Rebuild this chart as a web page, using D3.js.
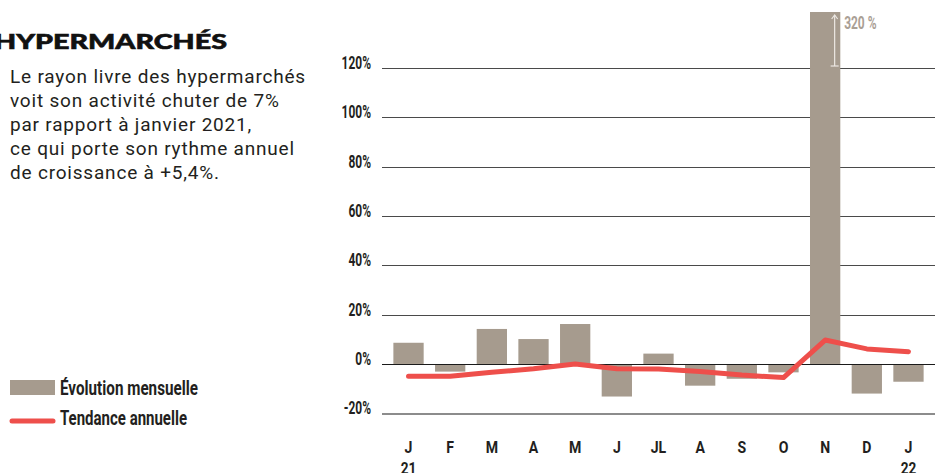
<!DOCTYPE html>
<html>
<head>
    <meta charset="utf-8" />
    <style>
        body {
            margin: 0;
            background: #fff;
        }

        .cond {
            font-family: Roboto, "DejaVu Sans", sans-serif;
            font-weight: bold;
        }
    </style>
</head>
<body>
    <svg width="935" height="473"></svg>
    <script src="https://d3js.org/d3.v7.min.js"></script>
    <script>
        var months = ["J", "F", "M", "A", "M", "J", "JL", "A", "S", "O", "N", "D", "J"];
        var years = ["21", "", "", "", "", "", "", "", "", "", "", "", "22"];
        var mensuelle = [8.6, -3.1, 14.2, 10.1, 16.2, -13.2, 4.2, -8.8, -6.0, -3.4, 320, -12.0, -7.2];
        var annuelle = [-5.0, -5.0, -3.4, -1.9, 0.0, -1.9, -2.0, -3.1, -4.5, -5.5, 9.7, 6.1, 5.0];
        var yTicks = [-20, 0, 20, 40, 60, 80, 100, 120];
        var textLines = [
            "Le rayon livre des hypermarchés",
            "voit son activité chuter de 7%",
            "par rapport à janvier 2021,",
            "ce qui porte son rythme annuel",
            "de croissance à +5,4%."
        ];

        var svg = d3.select("svg");
        var ids = months.map(function (m, i) { return i; });

        var x = d3.scaleBand()
            .domain(ids)
            .range([382, 935])
            .padding(0.273);

        var y = d3.scaleLinear()
            .domain([-20, 120])
            .range([413.3, 68]);

        // condensed look: squeeze glyphs horizontally
        var yScaleX = 0.63;

        // clip so the november bar runs off near the top
        svg.append("defs").append("clipPath")
            .attr("id", "plotclip")
            .append("rect")
            .attr("x", 370).attr("y", 12)
            .attr("width", 600).attr("height", 460);

        // gridlines
        svg.append("g")
            .selectAll("line")
            .data(yTicks)
            .enter().append("line")
            .attr("x1", 382)
            .attr("x2", 935)
            .attr("y1", function (d) { return Math.round(y(d)) + 0.5; })
            .attr("y2", function (d) { return Math.round(y(d)) + 0.5; })
            .style("shape-rendering", "crispEdges")
            .style("stroke", function (d) { return d == -20 ? "#8c8c8c" : (d == 0 ? "#1a1a1a" : "#4a4a4a"); })
            .style("stroke-width", function (d) { return d == -20 ? 2 : 1; });

        // y labels
        svg.append("g")
            .selectAll("text")
            .data(yTicks)
            .enter().append("text")
            .attr("class", "cond")
            .attr("transform", function (d) { return "translate(371," + (y(d) + 1) + ") scale(" + yScaleX + ",1)"; })
            .attr("text-anchor", "end")
            .style("font-size", "19px")
            .style("fill", "#231f20")
            .text(function (d) { return d + "%"; });

        // bars
        svg.append("g")
            .attr("clip-path", "url(#plotclip)")
            .selectAll("rect")
            .data(mensuelle)
            .enter().append("rect")
            .attr("x", function (d, i) { return x(i); })
            .attr("width", x.bandwidth())
            .attr("y", function (d) { return d >= 0 ? y(d) : y(0) + 0.5; })
            .attr("height", function (d) { return d >= 0 ? y(0) - y(d) : y(d) - y(0) - 0.5; })
            .style("fill", "#a69b8e");

        // zero line on top of bars
        svg.append("line")
            .attr("x1", 382).attr("x2", 935)
            .attr("y1", Math.round(y(0)) + 0.5).attr("y2", Math.round(y(0)) + 0.5)
            .style("stroke", "#1a1a1a")
            .style("stroke-width", 1.2);

        // trend line
        var line = d3.line()
            .x(function (d, i) { return x(i) + x.bandwidth() / 2; })
            .y(function (d) { return y(d); });

        svg.append("path")
            .datum(annuelle)
            .attr("d", line)
            .style("fill", "none")
            .style("stroke", "#ee4f4b")
            .style("stroke-width", 5)
            .style("stroke-linecap", "round")
            .style("stroke-linejoin", "round");

        // 320% arrow inside the november bar
        var nIdx = 10;
        var ax = x(nIdx) + x.bandwidth() / 2 + 9.5;
        var arrow = svg.append("g")
            .style("stroke", "#ece8e3")
            .style("stroke-width", 1.2)
            .style("fill", "none");
        arrow.append("line").attr("x1", ax).attr("x2", ax).attr("y1", 15).attr("y2", 66);
        arrow.append("line").attr("x1", ax - 4).attr("x2", ax + 4).attr("y1", 66).attr("y2", 66);
        arrow.append("path").attr("d", "M" + (ax - 3) + ",19 L" + ax + ",15 L" + (ax + 3) + ",19");

        svg.append("text")
            .attr("class", "cond")
            .attr("transform", "translate(" + (ax + 9.5) + ",29) scale(" + yScaleX + ",1)")
            .style("font-size", "19px")
            .style("fill", "#aaa095")
            .text(mensuelle[nIdx] + " %");

        // x labels
        var xl = svg.append("g").attr("class", "cond")
            .style("font-size", "16px")
            .style("fill", "#231f20")
            .attr("text-anchor", "middle");
        xl.selectAll(".m")
            .data(months)
            .enter().append("text")
            .attr("transform", function (d, i) { return "translate(" + (x(i) + x.bandwidth() / 2) + ",453) scale(0.88,1)"; })
            .text(function (d) { return d; });
        xl.selectAll(".yr")
            .data(years)
            .enter().append("text")
            .attr("transform", function (d, i) { return "translate(" + (x(i) + x.bandwidth() / 2) + ",474) scale(0.85,1)"; })
            .text(function (d) { return d; });

        // title
        svg.append("text")
            .attr("x", -6)
            .attr("y", 49)
            .attr("textLength", 233)
            .attr("lengthAdjust", "spacingAndGlyphs")
            .style("font-family", "Lato, 'Open Sans', sans-serif")
            .style("font-weight", 900)
            .style("font-size", "20.5px")
            .style("fill", "#111")
            .style("stroke", "#111")
            .style("stroke-width", 0.6)
            .text("HYPERMARCHÉS");

        // paragraph
        svg.append("g")
            .selectAll("text")
            .data(textLines)
            .enter().append("text")
            .attr("x", 10)
            .attr("y", function (d, i) { return 83 + i * 24; })
            .style("font-family", "Roboto, sans-serif")
            .style("font-size", "19px")
            .style("letter-spacing", "0.8px")
            .style("fill", "#231f20")
            .text(function (d) { return d; });

        // legend
        var leg = svg.append("g");
        leg.append("rect")
            .attr("x", 10).attr("y", 380)
            .attr("width", 45).attr("height", 15)
            .style("fill", "#a69b8e");
        leg.append("line")
            .attr("x1", 12).attr("x2", 53)
            .attr("y1", 421).attr("y2", 421)
            .style("stroke", "#ee4f4b")
            .style("stroke-width", 5)
            .style("stroke-linecap", "round");
        leg.append("text")
            .attr("class", "cond")
            .attr("x", 60).attr("y", 395)
            .attr("textLength", 138)
            .attr("lengthAdjust", "spacingAndGlyphs")
            .style("font-size", "20px")
            .style("fill", "#231f20")
            .text("Évolution mensuelle");
        leg.append("text")
            .attr("class", "cond")
            .attr("x", 60).attr("y", 425)
            .attr("textLength", 127)
            .attr("lengthAdjust", "spacingAndGlyphs")
            .style("font-size", "20px")
            .style("fill", "#231f20")
            .text("Tendance annuelle");
    </script>
</body>
</html>
